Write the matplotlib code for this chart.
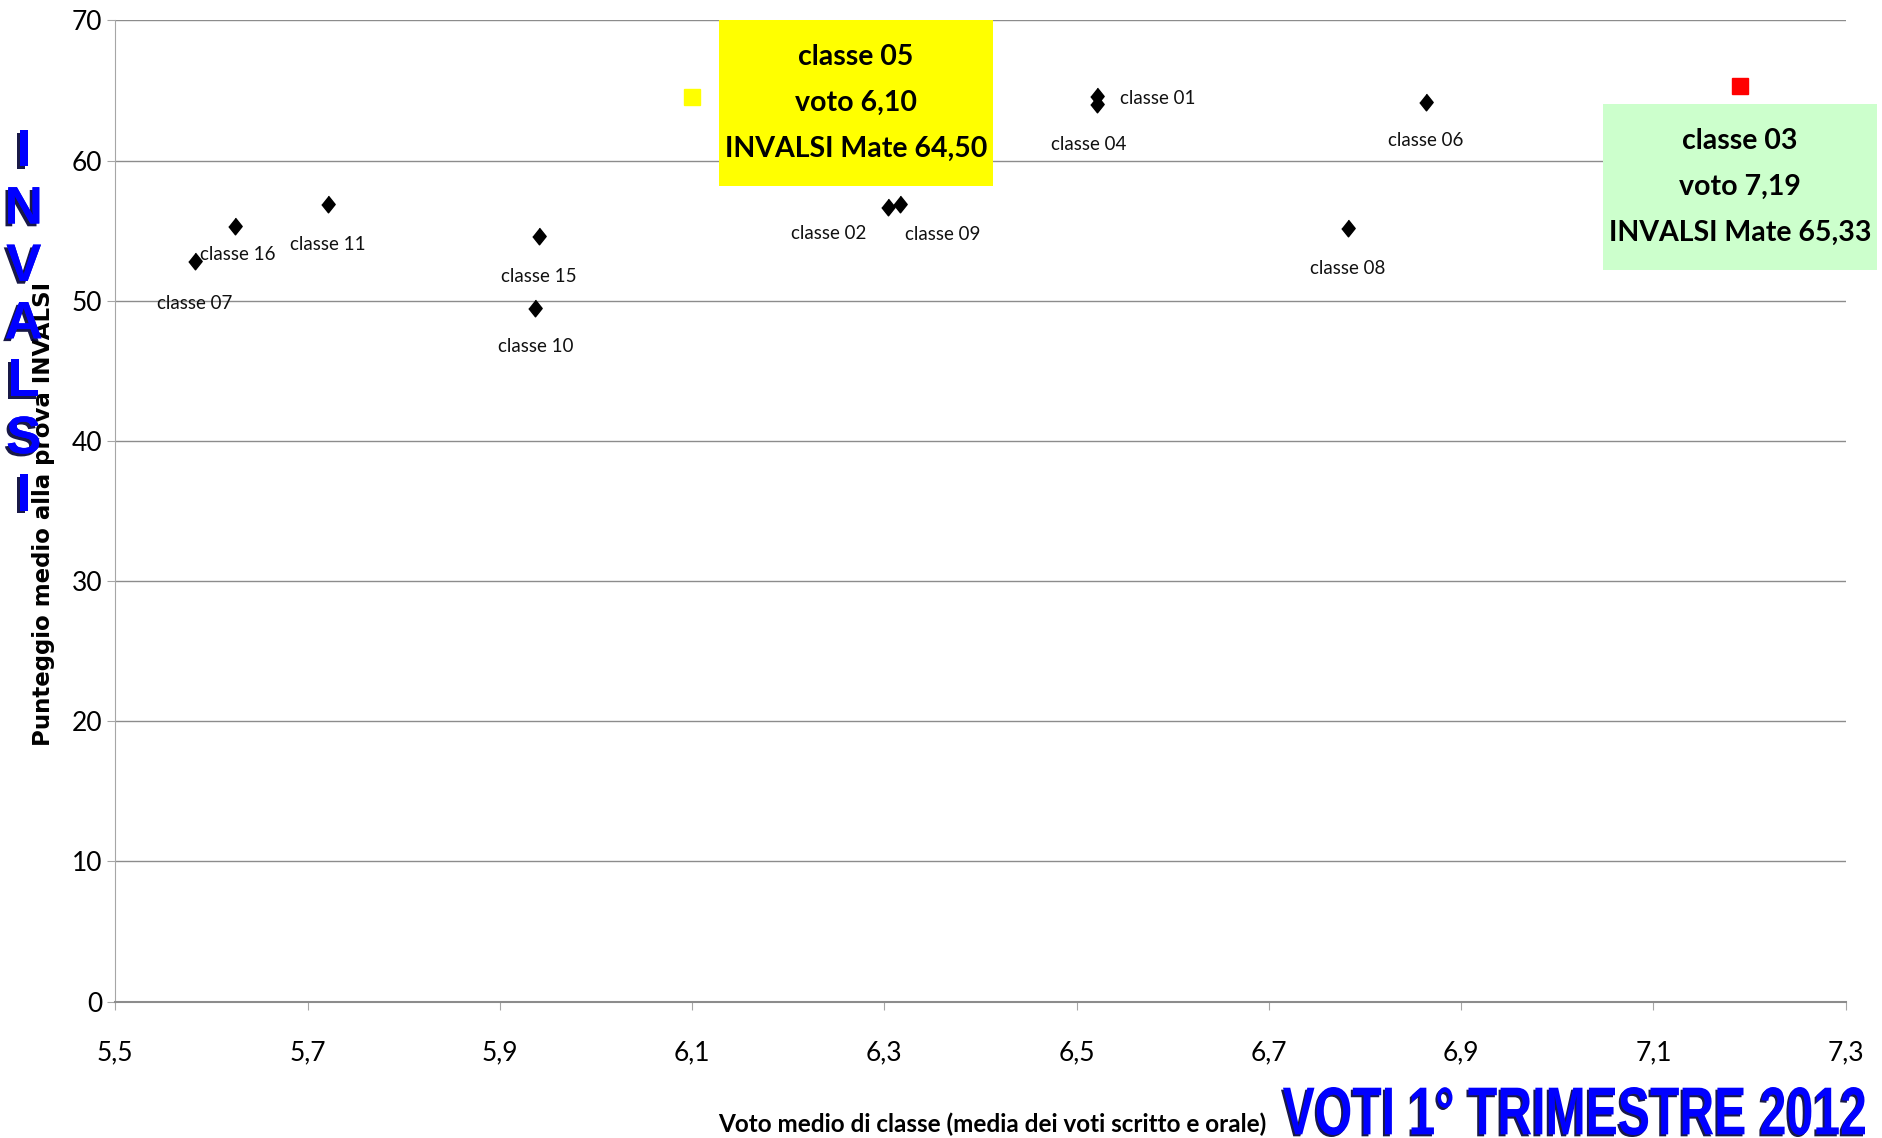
import matplotlib
matplotlib.use("Agg")
import matplotlib.pyplot as plt
import matplotlib.patheffects as pe
from matplotlib.path import Path
from matplotlib.patches import PathPatch
from matplotlib.textpath import TextPath
from matplotlib.font_manager import FontProperties
from matplotlib.transforms import Affine2D
from matplotlib.ticker import FuncFormatter, MultipleLocator

plt.rcParams['font.family'] = ['Lato', 'DejaVu Sans']

# data: class average grade vs INVALSI maths score
classi = ['classe 07', 'classe 16', 'classe 11', 'classe 15', 'classe 10',
          'classe 02', 'classe 09', 'classe 01', 'classe 04', 'classe 06', 'classe 08']
voti = [5.583, 5.625, 5.721, 5.941, 5.937, 6.304, 6.316, 6.521, 6.521, 6.863, 6.782]
invalsi = [52.8, 55.3, 56.9, 54.6, 49.5, 56.7, 56.9, 64.6, 64.0, 64.2, 55.2]
# label offsets (points) for each class label
label_off = [(0, -30), (2, -20), (0, -29), (0, -29), (0, -28),
             (-43, -19), (31, -22), (44, -2), (-6, -29), (0, -28), (0, -29)]

worst_voto, worst_inv = 6.10, 64.50   # classe 05
best_voto, best_inv = 7.19, 65.33     # classe 03

x_ticks = [5.5, 5.7, 5.9, 6.1, 6.3, 6.5, 6.7, 6.9, 7.1, 7.3]


def comma(v, pos):
    s = f"{v:g}"
    return s.replace('.', ',')


def wide_box(x0, y0, width, height, mutation_size):
    px = 0.19 * mutation_size
    py = 0.85 * mutation_size
    x0, y0 = x0 - px, y0 - py
    x1, y1 = x0 + width + 2 * px, y0 + height + 2 * py
    return Path([(x0, y0), (x1, y0), (x1, y1), (x0, y1), (x0, y0)], closed=True)


fig = plt.figure(figsize=(18.83, 11.38), dpi=100)
ax = fig.add_axes([0.0612, 0.1199, 0.919, 0.8622])

diamond = [(0, 1), (0.8, 0), (0, -1), (-0.8, 0)]
ax.scatter(voti, invalsi, marker=diamond, s=12 ** 2, color='black', zorder=3)
for name, x, y, off in zip(classi, voti, invalsi, label_off):
    ax.annotate(name, (x, y), xytext=off, textcoords='offset points',
                ha='center', va='center', fontsize=13.5, color='#111111', zorder=4)

ax.plot([worst_voto], [worst_inv], 's', color='#FFFF00', ms=11, zorder=3)
ax.plot([best_voto], [best_inv], 's', color='#FF0000', ms=11, zorder=3)

ax.annotate("classe 05\nvoto 6,10\nINVALSI Mate 64,50", (worst_voto, worst_inv),
            xytext=(118, -4), textcoords='offset points', ha='center', va='center',
            fontsize=20.5, fontweight='bold', linespacing=1.95, zorder=5,
            bbox=dict(boxstyle=wide_box, fc='#FFFF00', ec='none'))
ax.annotate("classe 03\nvoto 7,19\nINVALSI Mate 65,33", (best_voto, best_inv),
            xytext=(0, -73), textcoords='offset points', ha='center', va='center',
            fontsize=20.5, fontweight='bold', linespacing=1.95, zorder=5,
            bbox=dict(boxstyle=wide_box, fc='#CCFFCC', ec='none'))

ax.set_xlim(5.5, 7.3)
ax.set_ylim(0, 70)
ax.set_xticks(x_ticks)
ax.yaxis.set_major_locator(MultipleLocator(10))
ax.xaxis.set_major_formatter(FuncFormatter(comma))
ax.grid(axis='y', color='#8C8C8C', lw=1)
ax.set_axisbelow(True)
for s in ['top', 'right']:
    ax.spines[s].set_visible(False)
ax.spines['left'].set_color('#A6A6A6')
ax.spines['bottom'].set_color('#8C8C8C')
ax.spines['bottom'].set_linewidth(1.5)
ax.tick_params(axis='both', colors='#A6A6A6', labelcolor='black', labelsize=19, length=6)
ax.tick_params(axis='x', pad=22)

fig.text(0.023, 0.548, "Punteggio medio alla prova INVALSI", rotation=90,
         ha='center', va='center', fontsize=16.5, fontweight='bold',
         family=['DejaVu Sans'])
fig.text(0.527, 0.012, "Voto medio di classe (media dei voti scritto e orale)",
         ha='center', va='center', fontsize=17.5, fontweight='bold')

shadow = [pe.withSimplePatchShadow(offset=(-2, -2), shadow_rgbFace='#000033', alpha=0.9),
          pe.Normal()]
fig.text(0.0126, 0.715, "I\nN\nV\nA\nL\nS\nI", ha='center', va='center',
         fontsize=38, fontweight='bold', color='#0000FF', linespacing=1.19,
         family=['Liberation Sans', 'DejaVu Sans'], path_effects=shadow)

# condensed blue title, drawn as a squeezed text path (pixel box of the title)
title = "VOTI 1° TRIMESTRE 2012"
tp = TextPath((0, 0), title, size=100,
              prop=FontProperties(family='Liberation Sans', weight='bold'))
ext = tp.get_extents()
box_x0, box_y0, box_w, box_h = 1283, 3, 582, 48
fit = (Affine2D().translate(-ext.x0, -ext.y0)
       .scale(box_w / ext.width, box_h / ext.height)
       .translate(box_x0, box_y0))
fig.add_artist(PathPatch(tp, transform=fit + Affine2D().translate(-2, -2),
                         fc='#000033', ec='none', alpha=0.9))
fig.add_artist(PathPatch(tp, transform=fit, fc='#0000FF', ec='none'))

fig.savefig('out.png', dpi=100)
